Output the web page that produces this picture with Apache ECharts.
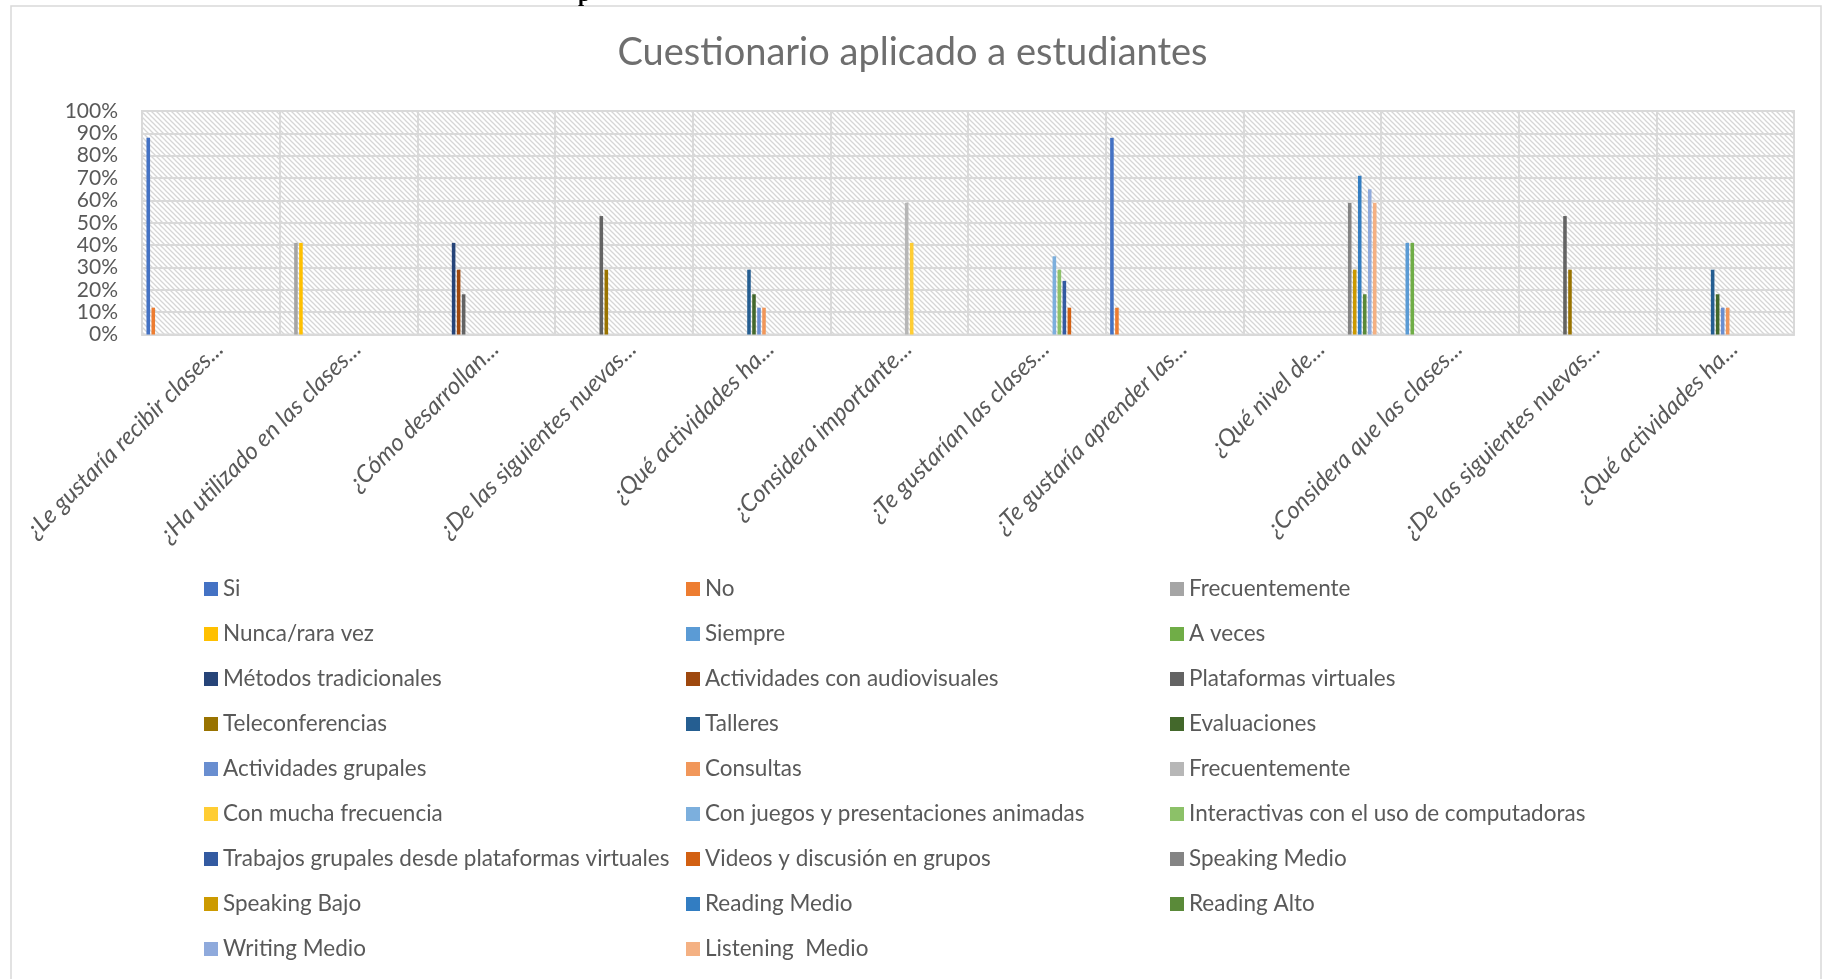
<!DOCTYPE html>
<html>
<head>
<meta charset="utf-8">
<title>Cuestionario aplicado a estudiantes</title>
<script src="https://cdn.jsdelivr.net/npm/echarts@6/dist/echarts.min.js"></script>
<style>
  html, body { margin: 0; padding: 0; background: #fff; }
  #chart-wrapper { width: 1825px; height: 979px; }
</style>
</head>
<body>
<div id="chart-wrapper"></div>
<script>
const questions = [
  '¿Le gustaría recibir clases...',
  '¿Ha utilizado en las clases...',
  '¿Cómo desarrollan...',
  '¿De las siguientes nuevas...',
  '¿Qué actividades ha...',
  '¿Considera importante...',
  '¿Te gustarían las clases...',
  '¿Te gustaría aprender las...',
  '¿Qué nivel de...',
  '¿Considera que las clases...',
  '¿De las siguientes nuevas...',
  '¿Qué actividades ha...'
]

// the second "Frecuentemente" carries a trailing space so the legend keeps both
const answerNames = [
  'Si', 'No', 'Frecuentemente',
  'Nunca/rara vez', 'Siempre', 'A veces',
  'Métodos tradicionales', 'Actividades con audiovisuales', 'Plataformas virtuales',
  'Teleconferencias', 'Talleres', 'Evaluaciones',
  'Actividades grupales', 'Consultas', 'Frecuentemente ',
  'Con mucha frecuencia', 'Con juegos y presentaciones animadas', 'Interactivas con el uso de computadoras',
  'Trabajos grupales desde plataformas virtuales', 'Videos y discusión en grupos', 'Speaking Medio',
  'Speaking Bajo', 'Reading Medio', 'Reading Alto',
  'Writing Medio', 'Listening  Medio'
]

const answerColors = [
  '#4472C4', '#ED7D31', '#A5A5A5',
  '#FFC000', '#5B9BD5', '#70AD47',
  '#264478', '#9E480E', '#636363',
  '#997300', '#255E91', '#43682B',
  '#698ED0', '#F1975A', '#B7B7B7',
  '#FFCD33', '#7CAFDD', '#8CC168',
  '#335AA1', '#D26012', '#848484',
  '#CC9A00', '#327DC2', '#5A8A39',
  '#8FAADC', '#F4B183'
]

// one row per answer, one column per question (null = not asked)
const n = null
const answerValues = [
  [0.88, n, n, n, n, n, n, 0.88, n, n, n, n],
  [0.12, n, n, n, n, n, n, 0.12, n, n, n, n],
  [n, 0.41, n, n, n, n, n, n, n, n, n, n],
  [n, 0.41, n, n, n, n, n, n, n, n, n, n],
  [n, n, n, n, n, n, n, n, n, 0.41, n, n],
  [n, n, n, n, n, n, n, n, n, 0.41, n, n],
  [n, n, 0.41, n, n, n, n, n, n, n, n, n],
  [n, n, 0.29, n, n, n, n, n, n, n, n, n],
  [n, n, 0.18, 0.53, n, n, n, n, n, n, 0.53, n],
  [n, n, n, 0.29, n, n, n, n, n, n, 0.29, n],
  [n, n, n, n, 0.29, n, n, n, n, n, n, 0.29],
  [n, n, n, n, 0.18, n, n, n, n, n, n, 0.18],
  [n, n, n, n, 0.12, n, n, n, n, n, n, 0.12],
  [n, n, n, n, 0.12, n, n, n, n, n, n, 0.12],
  [n, n, n, n, n, 0.59, n, n, n, n, n, n],
  [n, n, n, n, n, 0.41, n, n, n, n, n, n],
  [n, n, n, n, n, n, 0.35, n, n, n, n, n],
  [n, n, n, n, n, n, 0.29, n, n, n, n, n],
  [n, n, n, n, n, n, 0.24, n, n, n, n, n],
  [n, n, n, n, n, n, 0.12, n, n, n, n, n],
  [n, n, n, n, n, n, n, n, 0.59, n, n, n],
  [n, n, n, n, n, n, n, n, 0.29, n, n, n],
  [n, n, n, n, n, n, n, n, 0.71, n, n, n],
  [n, n, n, n, n, n, n, n, 0.18, n, n, n],
  [n, n, n, n, n, n, n, n, 0.65, n, n, n],
  [n, n, n, n, n, n, n, n, 0.59, n, n, n]
]

const gray = '#595959'
const lineGray = '#D9D9D9'
const font = 'Lato, "Open Sans", sans-serif'

// diagonal hatch for the plot area
const makeHatch = () => {
  const s = 5
  const c = document.createElement('canvas')
  c.width = s
  c.height = s
  const ctx = c.getContext('2d')
  ctx.fillStyle = '#fff'
  ctx.fillRect(0, 0, s, s)
  ctx.strokeStyle = '#D6D6D6'
  ctx.lineWidth = 1.3
  for (let k = -1; k <= 1; k++) {
    ctx.beginPath()
    ctx.moveTo(k * s - 1, -1)
    ctx.lineTo(k * s + s + 1, s + 1)
    ctx.stroke()
  }
  return c
}

const legendColumn = (col, left) => ({
  orient: 'vertical',
  left: left,
  top: 576,
  padding: 0,
  itemGap: 19,
  itemWidth: 14,
  itemHeight: 14,
  icon: 'rect',
  selectedMode: false,
  textStyle: { fontFamily: font, fontSize: 22.5, color: gray, lineHeight: 26 },
  data: answerNames
    .map((name, i) => ({ name, itemStyle: { color: answerColors[i] }, i }))
    .filter(d => d.i % 3 === col)
    .map(d => ({ name: d.name, itemStyle: d.itemStyle }))
})

const chartDom = document.getElementById('chart-wrapper')
const chart = echarts.init(chartDom, null, { renderer: 'canvas' })

const option = {
  animation: false,
  backgroundColor: '#fff',
  title: {
    text: 'Cuestionario aplicado a estudiantes',
    left: 'center',
    top: 29,
    textStyle: { fontFamily: font, fontSize: 38, fontWeight: 'normal', color: '#6e6e6e' }
  },
  graphic: [
    {
      type: 'rect',
      shape: { x: 11, y: 6, width: 1810, height: 1000 },
      style: { fill: 'none', stroke: lineGray, lineWidth: 1.5 },
      silent: true
    },
    {
      type: 'text',
      left: 578,
      top: -16,
      style: { text: 'p', fontFamily: '"Liberation Serif", serif', fontWeight: 'bold', fontSize: 22, fill: '#000' },
      silent: true
    }
  ],
  legend: [legendColumn(0, 204), legendColumn(1, 686), legendColumn(2, 1170)],
  grid: {
    left: 142,
    top: 111,
    width: 1652,
    height: 223.5,
    show: true,
    backgroundColor: { image: makeHatch(), repeat: 'repeat' },
    borderColor: lineGray,
    borderWidth: 2
  },
  xAxis: {
    type: 'category',
    data: questions,
    axisTick: { show: false },
    axisLine: { lineStyle: { color: lineGray, width: 2 } },
    splitLine: { show: true, lineStyle: { color: lineGray, width: 2 } },
    axisLabel: {
      interval: 0,
      rotate: 45,
      margin: 2,
      verticalAlign: 'top',
      fontFamily: font,
      fontStyle: 'italic',
      fontSize: 24,
      color: gray
    }
  },
  yAxis: {
    type: 'value',
    min: 0,
    max: 1,
    interval: 0.1,
    axisLine: { show: false },
    axisTick: { show: false },
    splitLine: { lineStyle: { color: lineGray, width: 2 } },
    axisLabel: {
      margin: 24,
      fontFamily: font,
      fontSize: 21,
      color: gray,
      formatter: v => Math.round(v * 100) + '%'
    }
  },
  series: answerNames.map((name, i) => ({
    type: 'bar',
    name: name,
    data: answerValues[i],
    barGap: '40%',
    barCategoryGap: '6.5%',
    itemStyle: { color: answerColors[i] }
  }))
}

chart.setOption(option)
</script>
</body>
</html>
